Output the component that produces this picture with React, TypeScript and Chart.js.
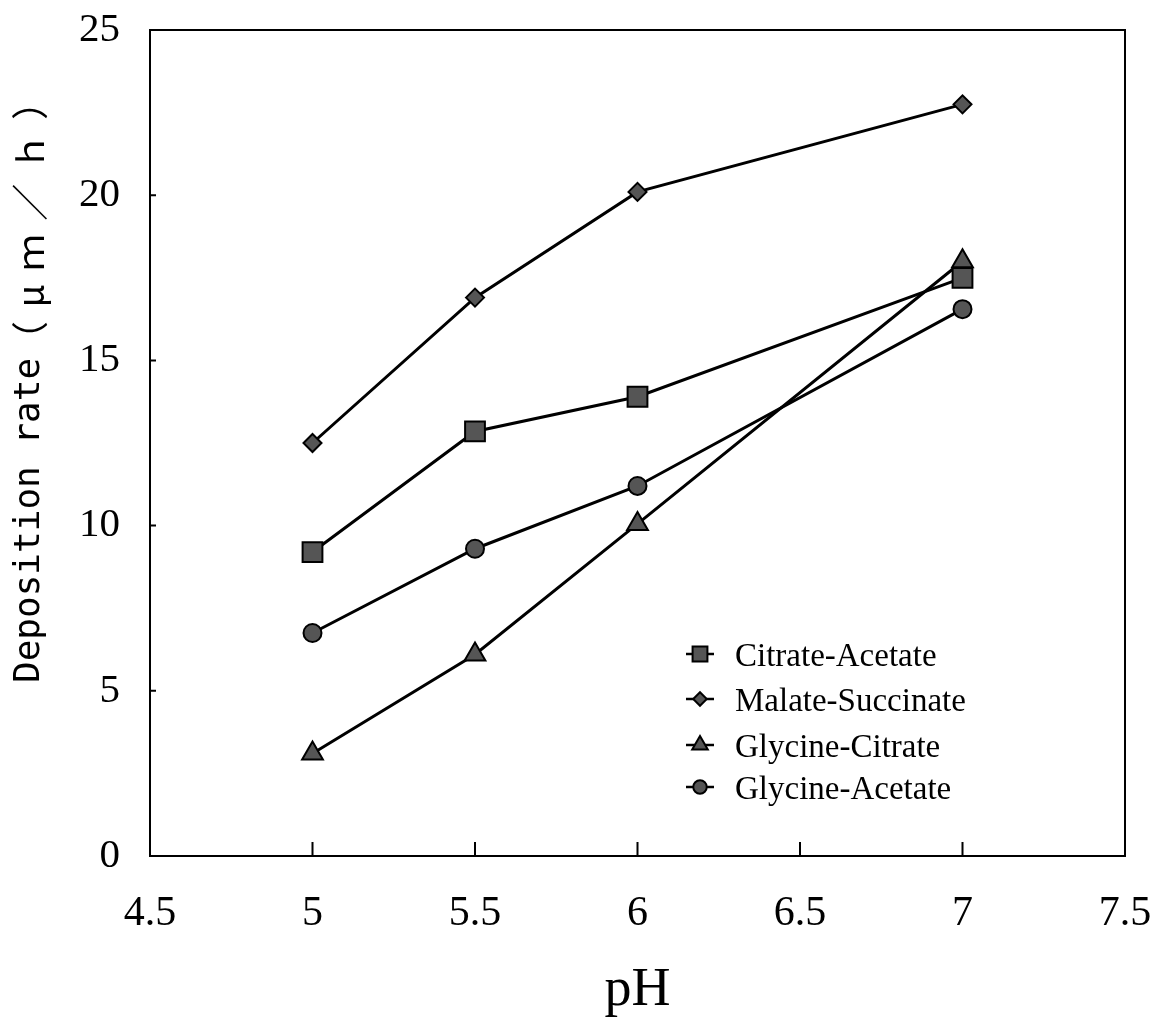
import React, { useEffect, useRef } from "react";
import { Chart, registerables } from "chart.js";
import { drawPoint } from "chart.js/helpers";

Chart.register(...registerables);

const phValues = [5, 5.5, 6, 7];
const citrateAcetate = [9.2, 12.85, 13.9, 17.5];
const malateSuccinate = [12.5, 16.9, 20.1, 22.75];
const glycineCitrate = [3.1, 6.1, 10.05, 18.0];
const glycineAcetate = [6.75, 9.3, 11.2, 16.55];

const seriesNames = ["Citrate-Acetate", "Malate-Succinate", "Glycine-Citrate", "Glycine-Acetate"];
const seriesValues = [citrateAcetate, malateSuccinate, glycineCitrate, glycineAcetate];
const pointStyles = ["rect", "rectRot", "triangle", "circle"];
const pointRadii = [14, 9, 12, 9];

const xMin = 4.5;
const xMax = 7.5;
const xStep = 0.5;
const yMin = 0;
const yMax = 25;
const yStep = 5;

const xAxisTitle = "pH";
const yAxisTitleMain = "Deposition rate";
const yAxisTitleUnit = "（μｍ／ｈ）";

const markerFill = "#555555";

const framePlugin = {
  id: "frame",
  beforeDatasetsDraw(chart: any) {
    const { ctx, chartArea: ca, scales } = chart;
    const x = scales.x;
    const y = scales.y;
    ctx.save();
    ctx.strokeStyle = "#000";
    ctx.lineWidth = 2;
    ctx.strokeRect(ca.left, ca.top, ca.right - ca.left, ca.bottom - ca.top);
    ctx.beginPath();
    x.ticks.forEach((t: any) => {
      const px = x.getPixelForValue(t.value);
      ctx.moveTo(px, ca.bottom);
      ctx.lineTo(px, ca.bottom - 14);
    });
    y.ticks.forEach((t: any) => {
      const py = y.getPixelForValue(t.value);
      ctx.moveTo(ca.left, py);
      ctx.lineTo(ca.left + 6, py);
    });
    ctx.stroke();
    // rotated y-axis title, drawn in two runs
    ctx.translate(30, 683);
    ctx.rotate(-Math.PI / 2);
    ctx.fillStyle = "#000";
    ctx.textAlign = "left";
    ctx.textBaseline = "middle";
    ctx.font = '36px "DejaVu Sans Mono"';
    ctx.fillText(yAxisTitleMain, 0, 0);
    const w = ctx.measureText(yAxisTitleMain).width;
    ctx.font = '37px "Noto Sans CJK JP"';
    const uw = ctx.measureText(yAxisTitleUnit).width;
    const remaining = 600 - w;
    const n = [...yAxisTitleUnit].length;
    const spacing = Math.max(0, (remaining - uw) / (n - 1));
    ctx.translate(w, 0);
    let cx = 0;
    for (const ch of yAxisTitleUnit) {
      ctx.fillText(ch, cx, 0);
      cx += ctx.measureText(ch).width + spacing;
    }
    ctx.restore();
  },
  afterDatasetsDraw(chart: any) {
    const { ctx } = chart;
    const rows = [654, 699, 745, 787];
    ctx.save();
    seriesNames.forEach((name, i) => {
      const cy = rows[i];
      ctx.strokeStyle = "#000";
      ctx.lineWidth = 2.5;
      ctx.beginPath();
      ctx.moveTo(686, cy);
      ctx.lineTo(714, cy);
      ctx.stroke();
      ctx.fillStyle = markerFill;
      ctx.lineWidth = 2;
      drawPoint(ctx, { pointStyle: pointStyles[i], radius: pointRadii[i] * 0.75, rotation: 0, borderWidth: 2 } as any, 700, cy);
      ctx.fillStyle = "#000";
      ctx.font = '33px "Liberation Serif"';
      ctx.textAlign = "left";
      ctx.textBaseline = "alphabetic";
      ctx.fillText(name, 735, cy + 12);
    });
    ctx.restore();
  },
};

export default function App() {
  const canvasRef = useRef<HTMLCanvasElement | null>(null);

  useEffect(() => {
    const canvas = canvasRef.current;
    if (!canvas) return;
    const datasets = seriesNames.map((name, i) => ({
      label: name,
      data: phValues.map((p, j) => ({ x: p, y: seriesValues[i][j] })),
      showLine: true,
      borderColor: "#000",
      borderWidth: 3,
      backgroundColor: markerFill,
      pointStyle: pointStyles[i] as any,
      pointRadius: pointRadii[i],
      pointBackgroundColor: markerFill,
      pointBorderColor: "#000",
      pointBorderWidth: 2,
      tension: 0,
    }));
    const chart = new Chart(canvas, {
      type: "scatter",
      data: { datasets },
      options: {
        responsive: false,
        animation: false,
        devicePixelRatio: 1,
        layout: { padding: { top: 30, right: 35, left: 0, bottom: 0 } },
        plugins: { legend: { display: false }, tooltip: { enabled: false } },
        scales: {
          x: {
            type: "linear",
            min: xMin,
            max: xMax,
            afterFit: (s: any) => {
              s.height = 167;
              s.paddingLeft = 0;
              s.paddingRight = 0;
            },
            ticks: {
              stepSize: xStep,
              color: "#000",
              padding: 33,
              font: { family: "Liberation Serif", size: 42 },
              callback: (v: any) => String(Number(v)),
            },
            grid: { display: false, drawTicks: false },
            border: { display: false },
            title: {
              display: true,
              text: xAxisTitle,
              color: "#000",
              font: { family: "Liberation Serif", size: 54 },
              padding: { top: 0, bottom: 0 },
            },
          },
          y: {
            type: "linear",
            min: yMin,
            max: yMax,
            afterFit: (s: any) => {
              s.width = 150;
              s.paddingTop = 0;
              s.paddingBottom = 0;
            },
            ticks: {
              stepSize: yStep,
              color: "#000",
              padding: 30,
              font: { family: "Liberation Serif", size: 41 },
            },
            grid: { display: false, drawTicks: false },
            border: { display: false },
          },
        },
      },
      plugins: [framePlugin],
    });
    return () => chart.destroy();
  }, []);

  return (
    <div style={{ position: "fixed", left: 0, top: 0, width: 1160, height: 1023, background: "#fff" }}>
      <canvas ref={canvasRef} width={1160} height={1023} />
    </div>
  );
}
